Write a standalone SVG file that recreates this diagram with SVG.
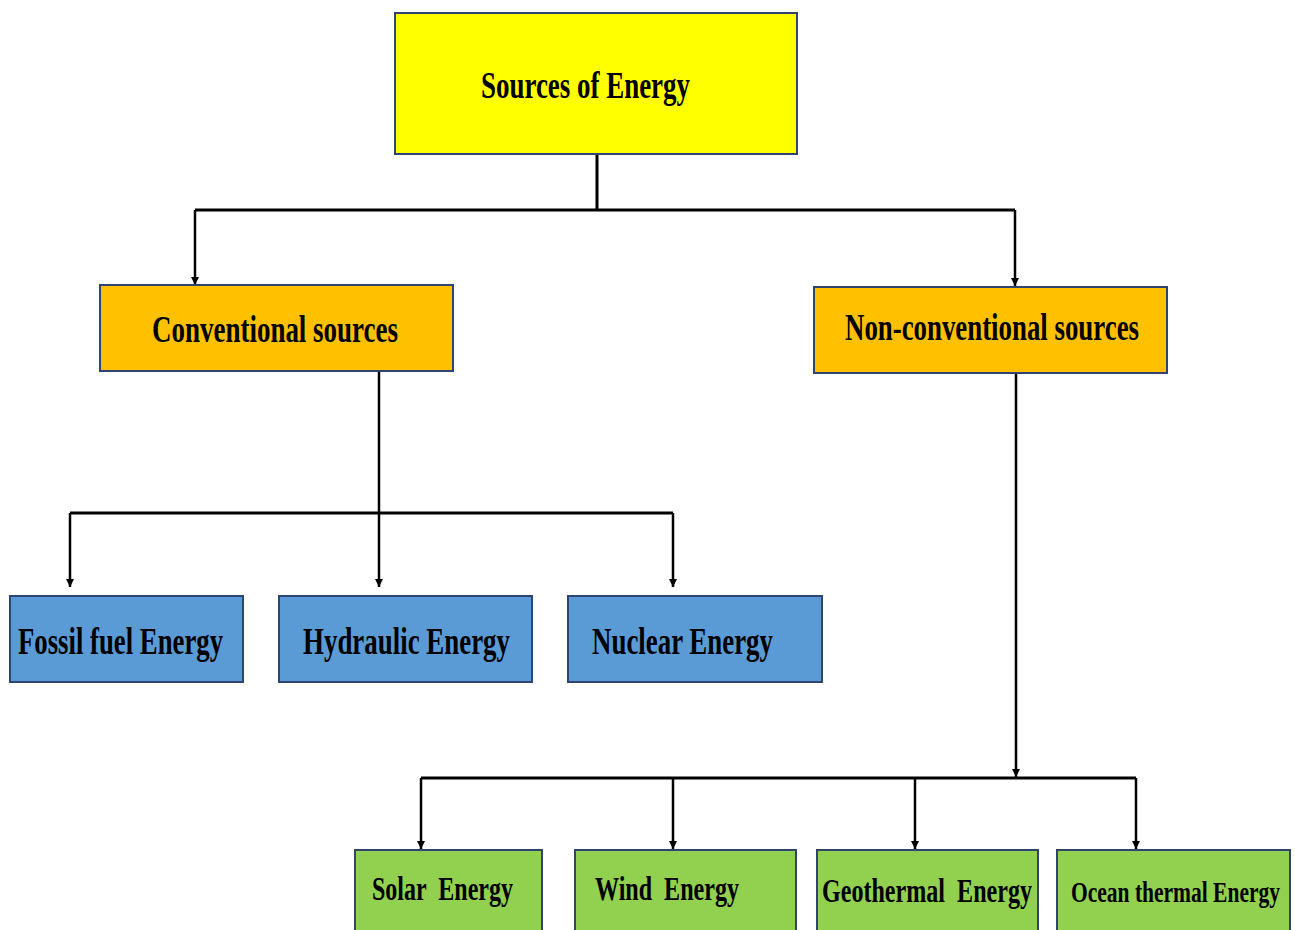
<svg xmlns="http://www.w3.org/2000/svg" width="1295" height="930" viewBox="0 0 1295 930">
<style>
.box{stroke:#2F4470;stroke-width:2}
.y{fill:#FFFF00}
.o{fill:#FFC000}
.b{fill:#5B9BD5}
.g{fill:#92D050}
text{font-family:"Liberation Serif","Times New Roman",serif;font-weight:bold;fill:#000}
.t40{font-size:26.5px}
.t34{font-size:23px}
.t30{font-size:21px}
.c{fill:none;stroke:#000;stroke-width:3}
.a{fill:none;stroke:#000;stroke-width:2.5;marker-end:url(#arr)}
</style>
<defs>
<marker id="arr" viewBox="0 0 10 10" refX="10" refY="5" markerWidth="10" markerHeight="8" markerUnits="userSpaceOnUse" orient="auto">
<path d="M0,0 L10,5 L0,10 z" fill="#000"/>
</marker>
</defs>
<rect width="1295" height="930" fill="#fff"/>
<g id="connectors">
<path class="c" d="M597,154 V210"/>
<path class="c" d="M195,210 H1015"/>
<path class="a" d="M195,210 V285"/>
<path class="a" d="M1015,210 V286"/>
<path class="a" d="M379,371 V587"/>
<path class="c" d="M70,513 H673"/>
<path class="a" d="M70,513 V587"/>
<path class="a" d="M673,513 V587"/>
<path class="a" d="M1016,373 V777"/>
<path class="c" d="M421,778 H1136"/>
<path class="a" d="M421,778 V849"/>
<path class="a" d="M673,778 V849"/>
<path class="a" d="M915,778 V849"/>
<path class="a" d="M1136,778 V849"/>
</g>
<g id="sources">
<rect class="box y" x="395" y="13" width="402" height="141"/>
<text class="t40" transform="translate(481,98) scale(1,1.45)" textLength="209" lengthAdjust="spacingAndGlyphs">Sources of Energy</text>
</g>
<g id="conventional">
<rect class="box o" x="100" y="285" width="353" height="86"/>
<text class="t40" transform="translate(152,342) scale(1,1.45)" textLength="246" lengthAdjust="spacingAndGlyphs">Conventional sources</text>
</g>
<g id="nonconventional">
<rect class="box o" x="814" y="287" width="353" height="86"/>
<text class="t40" transform="translate(845,340) scale(1,1.45)" textLength="294" lengthAdjust="spacingAndGlyphs">Non-conventional sources</text>
</g>
<g id="fossil">
<rect class="box b" x="10" y="596" width="233" height="86"/>
<text class="t40" transform="translate(18,654) scale(1,1.45)" textLength="205" lengthAdjust="spacingAndGlyphs">Fossil fuel Energy</text>
</g>
<g id="hydraulic">
<rect class="box b" x="279" y="596" width="253" height="86"/>
<text class="t40" transform="translate(303,654) scale(1,1.45)" textLength="207" lengthAdjust="spacingAndGlyphs">Hydraulic Energy</text>
</g>
<g id="nuclear">
<rect class="box b" x="568" y="596" width="254" height="86"/>
<text class="t40" transform="translate(592,654) scale(1,1.45)" textLength="181" lengthAdjust="spacingAndGlyphs">Nuclear Energy</text>
</g>
<g id="solar">
<rect class="box g" x="355" y="850" width="187" height="90"/>
<text class="t34" transform="translate(372,900) scale(1,1.45)" textLength="141" lengthAdjust="spacingAndGlyphs" xml:space="preserve">Solar  Energy</text>
</g>
<g id="wind">
<rect class="box g" x="575" y="850" width="221" height="90"/>
<text class="t34" transform="translate(595,900) scale(1,1.45)" textLength="144" lengthAdjust="spacingAndGlyphs" xml:space="preserve">Wind  Energy</text>
</g>
<g id="geothermal">
<rect class="box g" x="817" y="850" width="221" height="90"/>
<text class="t34" transform="translate(822,902) scale(1,1.45)" textLength="210" lengthAdjust="spacingAndGlyphs" xml:space="preserve">Geothermal  Energy</text>
</g>
<g id="ocean">
<rect class="box g" x="1057" y="850" width="233" height="90"/>
<text class="t30" transform="translate(1071,902) scale(1,1.45)" textLength="209" lengthAdjust="spacingAndGlyphs">Ocean thermal Energy</text>
</g>
</svg>
